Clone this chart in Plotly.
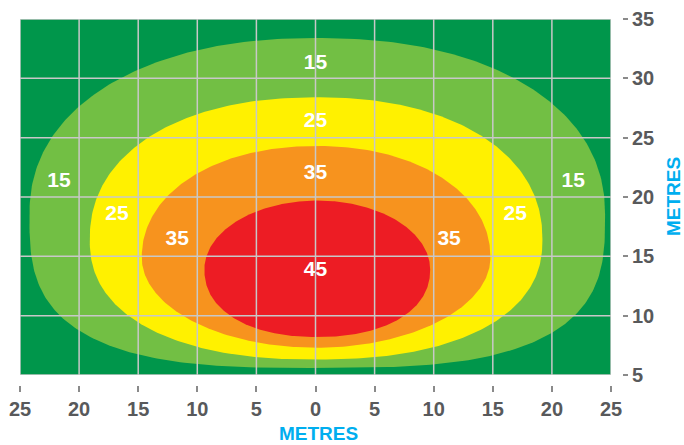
import numpy as np
import plotly.graph_objects as go

# ---- data ----
levels = [15, 25, 35, 45]
zone_left = [-24.2, -19.1, -14.7, -9.4]
zone_right = [24.5, 19.2, 14.8, 9.7]
zone_top = [33.4, 28.4, 24.3, 19.7]
zone_bottom = [5.6, 6.3, 7.3, 8.2]
zone_mid_y = [18.5, 16.4, 14.9, 13.9]
zone_top_exp = [2.2, 2.2, 2.1, 2.0]
zone_bottom_exp = [3.0, 2.3, 2.0, 2.2]

label_text = ["15", "15", "15", "25", "25", "25", "35", "35", "35", "45"]
label_x = [0.0, -21.7, 21.8, 0.0, -16.8, 16.9, 0.0, -11.7, 11.3, 0.0]
label_y = [31.2, 21.3, 21.3, 26.35, 18.5, 18.5, 22.0, 16.4, 16.4, 13.8]

x_ticks = [-25, -20, -15, -10, -5, 0, 5, 10, 15, 20, 25]
x_tick_text = ["25", "20", "15", "10", "5", "0", "5", "10", "15", "20", "25"]
y_ticks = [5, 10, 15, 20, 25, 30, 35]

# ---- styles ----
bg_green = "#00964B"
zone_colors = ["#72BF44", "#FFF100", "#F7931E", "#ED1C24"]
grid_color = "#C8C8C8"
tick_color = "#58595B"
title_color = "#00AEEF"
font_family = "Liberation Sans, Arial, Helvetica, sans-serif"

fig = go.Figure()


def zone_outline(i):
    cx = (zone_left[i] + zone_right[i]) / 2
    a = (zone_right[i] - zone_left[i]) / 2
    cy = zone_mid_y[i]
    bt = zone_top[i] - cy
    bb = cy - zone_bottom[i]
    t = np.linspace(0, 2 * np.pi, 400)
    c, s = np.cos(t), np.sin(t)
    xs, ys = [], []
    for ci, si in zip(c, s):
        n = zone_top_exp[i] if si >= 0 else zone_bottom_exp[i]
        b = bt if si >= 0 else bb
        xs.append(cx + a * np.sign(ci) * abs(ci) ** (2 / n))
        ys.append(cy + b * np.sign(si) * abs(si) ** (2 / n))
    return xs, ys


for i, lv in enumerate(levels):
    xs, ys = zone_outline(i)
    fig.add_trace(go.Scatter(x=xs, y=ys, fill="toself", fillcolor=zone_colors[i],
                             mode="lines", line=dict(width=0, color=zone_colors[i]),
                             hoverinfo="skip", showlegend=False, name=str(lv)))

fig.add_trace(go.Scatter(x=label_x, y=label_y, mode="text", text=label_text,
                         textfont=dict(family=font_family, size=21, color="white", weight="bold"),
                         showlegend=False, hoverinfo="skip"))

# invisible trace for the offset tick axes
fig.add_trace(go.Scatter(x=[x_ticks[0]], y=[y_ticks[0]], xaxis="x2", yaxis="y2",
                         mode="markers", marker=dict(opacity=0), showlegend=False, hoverinfo="skip"))

# grid lines above the fills
shapes = []
for xv in x_ticks:
    shapes.append(dict(type="line", xref="x", yref="y", x0=xv, x1=xv, y0=y_ticks[0], y1=y_ticks[-1],
                       line=dict(color=grid_color, width=1.5), layer="above"))
for yv in y_ticks:
    shapes.append(dict(type="line", xref="x", yref="y", x0=x_ticks[0], x1=x_ticks[-1], y0=yv, y1=yv,
                       line=dict(color=grid_color, width=1.5), layer="above"))

W, H = 684, 445
ml, mr, mt, mb = 20, 40, 19, 30
pw, ph = W - ml - mr, H - mt - mb


def px(xr):
    return (xr - ml) / pw


def py(yr):
    return (H - mb - yr) / ph


fig.update_layout(
    width=W, height=H,
    margin=dict(l=ml, r=mr, t=mt, b=mb, autoexpand=False),
    paper_bgcolor="white", plot_bgcolor=bg_green,
    shapes=shapes,
    xaxis=dict(range=[-25, 25], domain=[0, px(611)], showgrid=False, zeroline=False,
               showticklabels=False, ticks="", showline=False, fixedrange=True, automargin=False),
    yaxis=dict(range=[5, 35], domain=[py(375), 1], showgrid=False, zeroline=False,
               showticklabels=False, ticks="", showline=False, fixedrange=True, automargin=False),
    xaxis2=dict(range=[-25, 25], overlaying="x", anchor="free", side="bottom", automargin=False,
                position=py(385), showgrid=False, zeroline=False, showline=False,
                ticks="outside", ticklen=6, tickwidth=1.5, tickcolor="#8a8a8a",
                tickvals=x_ticks, ticktext=x_tick_text, fixedrange=True,
                tickfont=dict(family=font_family, size=20, color=tick_color, weight="bold")),
    yaxis2=dict(range=[5, 35], overlaying="y", anchor="free", side="right", automargin=False,
                position=px(622), showgrid=False, zeroline=False, showline=False,
                ticks="outside", ticklen=5, tickwidth=1.5, tickcolor="#8a8a8a",
                tickvals=y_ticks, ticktext=[str(v) for v in y_ticks], fixedrange=True,
                tickfont=dict(family=font_family, size=20, color=tick_color, weight="bold")),
    annotations=[
        dict(text="METRES", xref="paper", yref="paper", x=px(318), y=py(433),
             showarrow=False, xanchor="center", yanchor="middle",
             font=dict(family=font_family, size=19, color=title_color, weight="bold")),
        dict(text="METRES", xref="paper", yref="paper", x=px(673), y=py(197),
             showarrow=False, xanchor="center", yanchor="middle", textangle=-90,
             font=dict(family=font_family, size=19, color=title_color, weight="bold")),
    ],
)

fig.write_html("out.html", config={"displayModeBar": False},
               post_script="document.body.style.margin='0';document.body.style.overflow='hidden';")
